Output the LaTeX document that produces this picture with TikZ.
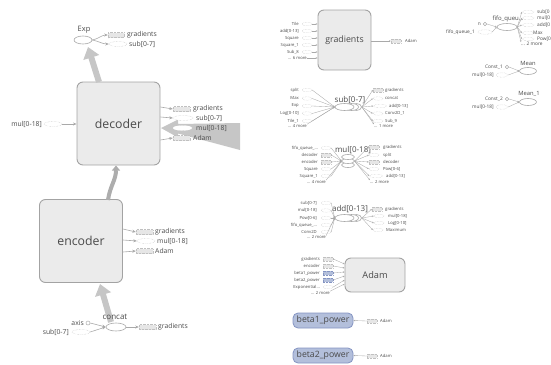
\documentclass[tikz,border=0pt]{standalone}
\usepackage{fontspec}
\setmainfont{Open Sans}
\usetikzlibrary{shapes.geometric,arrows.meta}

\definecolor{edgec}{HTML}{A9A9A9}
\definecolor{boxfill}{HTML}{EBEBEB}
\definecolor{boxline}{HTML}{A3A3A3}
\definecolor{txt}{HTML}{4A4A4A}
\definecolor{reffill}{HTML}{E6E6E6}
\definecolor{refline}{HTML}{C0C0C0}
\definecolor{bluefill}{HTML}{B3BFDB}
\definecolor{blueline}{HTML}{8494C2}
\definecolor{flowc}{HTML}{C6C6C6}
\definecolor{flowd}{HTML}{ADADAD}

\tikzset{
  metabox/.style={draw=boxline, fill=boxfill, rounded corners=6pt, line width=0.9pt, text=txt, inner sep=0pt},
  bluebox/.style={draw=blueline, fill=bluefill, rounded corners=5pt, line width=0.8pt, text=txt, inner sep=0pt,
    minimum width=60pt, minimum height=15pt, font=\fontsize{8.7}{10}\selectfont},
  opnode/.style={ellipse, draw=edgec, line width=0.6pt, fill=white, inner sep=0pt},
  refrect/.style={draw=refline, densely dotted, fill=reffill, line width=0.4pt, minimum width=10pt, minimum height=3.6pt, inner sep=0pt},
  refell/.style={ellipse, draw=refline, densely dotted, fill=white, line width=0.4pt, minimum width=10pt, minimum height=3.6pt, inner sep=0pt},
  refblue/.style={draw=blueline, densely dotted, fill=bluefill, line width=0.4pt, minimum width=10pt, minimum height=3.6pt, inner sep=0pt},
  refconst/.style={circle, draw=edgec, line width=0.5pt, fill=white, minimum size=4pt, inner sep=0pt},
  lbl/.style={text=txt, inner sep=0pt, font=\fontsize{6.8}{8}\selectfont},
  seriesname/.style={text=txt, inner sep=0pt, font=\fontsize{8}{9}\selectfont},
  smallname/.style={text=txt, inner sep=0pt, font=\fontsize{5.8}{6.5}\selectfont},
  tinylbl/.style={text=txt, inner sep=0pt, font=\fontsize{4.2}{5}\selectfont},
  sidelbl/.style={text=txt, inner sep=0pt, font=\fontsize{4.8}{5.5}\selectfont},
  link/.style={draw=edgec, line width=0.6pt, -{Stealth[length=3.5pt,width=3pt]}},
  fine/.style={draw=edgec, line width=0.35pt, -{Stealth[length=1.8pt,width=1.6pt]}},
  finerev/.style={draw=edgec, line width=0.35pt, {Stealth[length=1.8pt,width=1.6pt]}-},
  flow/.style={draw=flowc, line width=6pt, -{Triangle[length=11pt,width=16pt]}},
  series/.pic={
    \node[opnode, minimum width=10pt, minimum height=7pt] (-tail) at (12,0) {};
    \node[opnode, minimum width=14pt, minimum height=7pt] at (7,0) {};
    \node[opnode, minimum width=19pt, minimum height=7pt] (-main) at (0,0) {};
  },
  stack/.pic={
    \node[opnode, minimum width=13pt, minimum height=5pt] at (0,8) {};
    \node[opnode, minimum width=13pt, minimum height=5pt] at (0,4) {};
    \node[opnode, minimum width=13pt, minimum height=5pt] (-main) at (0,0) {};
    \coordinate (-in) at (-6.5,4);
    \coordinate (-out) at (6.5,4);
  }
}

\begin{document}
\begin{tikzpicture}[x=1pt,y=-1pt]
\useasboundingbox (0,0) rectangle (551,364);
\clip (0,0) rectangle (551,364);

% ================= left: decoder / encoder =================
\node[metabox, minimum width=83pt, minimum height=83pt, font=\fontsize{12.3}{14}\selectfont] (dec) at (118.5,123.5) {decoder};
\node[metabox, minimum width=83pt, minimum height=83pt, font=\fontsize{12.3}{14}\selectfont] (enc) at (81,241) {encoder};

% Exp and its outputs
\node[opnode, minimum width=18pt, minimum height=8pt] (exp) at (83,40) {};
\coordinate (expin) at (88,47);
\coordinate (dectop) at (99,82);
\draw[flow] (dectop) -- (expin);
\node[lbl, font=\fontsize{7.5}{8}\selectfont] (explbl) at (84,30) {Exp};
\node[refrect, minimum width=16pt, minimum height=5pt] (expg) at (116,35) {};
\node[lbl, anchor=west] (expgl) at (127,35) {gradients};
\node[refell, minimum width=18pt, minimum height=5pt] (exps) at (118,44) {};
\node[lbl, anchor=west] (expsl) at (129,44) {sub[0-7]};
\draw[link] (exp.east) to[out=10,in=180] (expg.west);
\draw[link] (exp.east) to[out=-10,in=180] (exps.west);

% decoder input
\node[lbl, anchor=east] (dml) at (42,124) {mul[0-18]};
\node[refell, minimum width=18pt, minimum height=5pt] (dm) at (53,124) {};
\draw[link] (dm.east) -- (dec.west |- dm);

% wide incoming band on the right of decoder
\coordinate (bandtip) at (161,128);
\fill[flowc] (bandtip) -- (178,119.5) -- (178,124) -- (240,123) -- (240,150) -- (178,133.5) -- (178,137.5) -- cycle;

% decoder outputs
\node[refrect, minimum width=17pt, minimum height=5pt] (dg) at (181.5,109) {};
\node[lbl, anchor=west] (dgl) at (193,109) {gradients};
\node[refell, minimum width=20pt, minimum height=5pt] (ds) at (183,118) {};
\node[lbl, anchor=west] (dsl) at (196,118) {sub[0-7]};
\node[refell, draw=white, minimum width=19pt, minimum height=5pt] (dmo) at (182.5,128) {};
\node[lbl, anchor=west] (dmol) at (196,128) {mul[0-18]};
\node[refrect, minimum width=17pt, minimum height=5pt] (da) at (181.5,138) {};
\node[lbl, anchor=west] (dal) at (193,138) {Adam};
\draw[link] (dec.east |- 0,107) -- (dg.west);
\draw[link] (dec.east |- 0,117) -- (ds.west);
\draw[link] (dec.east |- 0,140) -- (da.west);

% encoder -> decoder
\coordinate (encout) at (108,200);
\coordinate (decin) at (116,165.5);
\draw[draw=flowd, line width=4pt, -{Triangle[length=5pt,width=8pt]}] (encout) .. controls (110,186) and (116,180) .. (decin);

% encoder outputs
\node[refrect, minimum width=17pt, minimum height=5pt] (eg) at (144.5,232) {};
\node[lbl, anchor=west] (egl) at (155,232) {gradients};
\node[refell, minimum width=18pt, minimum height=5pt] (em) at (146,241) {};
\node[lbl, anchor=west] (eml) at (157,241) {mul[0-18]};
\node[refrect, minimum width=17pt, minimum height=5pt] (ea) at (144.5,251) {};
\node[lbl, anchor=west] (eal) at (155,251) {Adam};
\draw[link] (enc.east |- 0,229) -- (eg.west);
\draw[link] (enc.east |- 0,240) -- (em.west);
\draw[link] (enc.east |- 0,252) -- (ea.west);

% concat
\node[opnode, minimum width=20pt, minimum height=8pt] (cc) at (116,327) {};
\coordinate (ccout) at (111,322);
\coordinate (encin) at (100,284);
\draw[flow] (ccout) -- (encin);
\node[lbl, font=\fontsize{8}{9}\selectfont] (ccl) at (115,317) {concat};
\node[refconst] (ax) at (88,323) {};
\node[lbl, anchor=east] (axl) at (84,323) {axis};
\node[refell, minimum width=18pt, minimum height=5pt] (cs) at (81,332) {};
\node[lbl, anchor=east] (csl) at (69,332) {sub[0-7]};
\draw[link] (ax.east) -- (cc.west);
\draw[link] (cs.east) -- (cc.west);
\node[refrect, minimum width=17pt, minimum height=5pt] (ccg) at (147.5,327) {};
\node[lbl, anchor=west] (ccgl) at (158,327) {gradients};
\draw[link] (cc.east) -- (ccg.west);

% ================= middle column =================
% gradients
\node[metabox, minimum width=53pt, minimum height=60pt, font=\fontsize{8.8}{10}\selectfont] (gbox) at (344.5,40) {gradients};
\foreach \nm/\yy [count=\i] in {Tile/24, add[0-13]/31, Square/38, Square\_1/45, Sub\_8/52} {
  \node[tinylbl, anchor=east] (gbl\i) at (299,\yy) {\nm};
  \node[refell] (gbn\i) at (307,\yy) {};
  \draw[fine] (gbn\i.east) -- (gbox.west |- 0,\yy);
}
\node[tinylbl, anchor=east] (gbmore) at (307,58) {... 6 more};
\draw[fine] (gbmore.east) -- (gbox.west |- 0,58);
\node[refrect] (gba) at (396,41) {};
\node[tinylbl, anchor=west] (gbal) at (405,41) {Adam};
\draw[fine] (gbox.east |- gba) -- (gba.west);

% sub[0-7]
\node[seriesname] (sbl) at (350,100) {sub[0-7]};
\pic (sb) at (344.5,107) {series};
\foreach \nm/\yy [count=\i] in {split/90, Max/98.5, Exp/106, Log[0-10]/113.5, Tile\_1/121} {
  \node[tinylbl, anchor=east] (sbil\i) at (299,\yy) {\nm};
  \node[refell] (sbin\i) at (307,\yy) {};
  \draw[fine] (sbin\i.east) -- (sb-main.west);
}
\node[tinylbl, anchor=east] (sbimore) at (307,126) {... 4 more};
\draw[fine] (sbimore.north east) -- (sb-main.west);
\node[refrect] (sbo1) at (378,90) {};
\node[refell] (sbo2) at (378,98.5) {};
\node[refell, minimum width=13pt] (sbo3) at (380,106) {};
\node[refell] (sbo4) at (378,113.5) {};
\node[refell] (sbo5) at (378,121) {};
\foreach \nm/\yy/\xx [count=\i] in {gradients/90/385, concat/98.5/385, add[0-13]/106/389, Conv2D\_1/113.5/385, Sub\_9/121/385} {
  \node[tinylbl, anchor=west] (sbol\i) at (\xx,\yy) {\nm};
  \draw[fine] (sb-tail.east) -- (sbo\i.west);
}
\node[tinylbl, anchor=west] (sbomore) at (374,126) {... 1 more};
\draw[fine] (sb-tail.east) -- (sbomore.north west);

% mul[0-18]
\node[seriesname] (mll) at (353,150) {mul[0-18]};
\pic (ml) at (348,157) {stack};
\node[refell] (mli1) at (326,148) {};
\node[refrect] (mli2) at (326,155) {};
\node[refrect] (mli3) at (326,162) {};
\node[refell] (mli4) at (326,169) {};
\node[refell] (mli5) at (326,176) {};
\foreach \nm/\yy [count=\i] in {fifo\_queue\_\ldots/148, decoder/155, encoder/162, Square/169, Square\_1/176} {
  \node[tinylbl, anchor=east] (mlil\i) at (318,\yy) {\nm};
  \draw[fine] (mli\i.east) -- (ml-in);
}
\node[tinylbl, anchor=east] (mlimore) at (326,182) {... 4 more};
\draw[fine] (mlimore.north east) -- (ml-in);
\node[refrect] (mlo1) at (374,147) {};
\node[refell] (mlo2) at (374,155) {};
\node[refrect] (mlo3) at (374,162) {};
\node[refell] (mlo4) at (374,169) {};
\node[refell, minimum width=13pt] (mlo5) at (376,176) {};
\foreach \nm/\yy/\xx [count=\i] in {gradients/147/383, split/155/383, decoder/162/383, Pow[0-6]/169/383, add[0-13]/176/386} {
  \node[tinylbl, anchor=west] (mlol\i) at (\xx,\yy) {\nm};
  \draw[fine] (ml-out) -- (mlo\i.west);
}
\node[tinylbl, anchor=west] (mlomore) at (370,182) {... 2 more};
\draw[fine] (ml-out) -- (mlomore.north west);

% add[0-13]
\node[seriesname] (adl) at (350,209) {add[0-13]};
\pic (ad) at (344.5,218) {series};
\foreach \nm/\yy [count=\i] in {sub[0-7]/203, mul[0-18]/210.5, Pow[0-6]/218, fifo\_queue\_\ldots/225, Conv2D/232} {
  \node[tinylbl, anchor=east] (adil\i) at (317,\yy) {\nm};
  \node[refell] (adin\i) at (326,\yy) {};
  \draw[fine] (adin\i.east) -- (ad-main.west);
}
\node[tinylbl, anchor=east] (adimore) at (326,237.5) {... 2 more};
\draw[fine] (adimore.north east) -- (ad-main.west);
\node[refrect] (ado1) at (377,209) {};
\node[refell] (ado2) at (379,216) {};
\node[refell] (ado3) at (379,223) {};
\node[refell] (ado4) at (378,230) {};
\foreach \nm/\yy/\xx [count=\i] in {gradients/209/385, mul[0-18]/216/388, Log[0-10]/223/388, Maximum/230/386} {
  \node[tinylbl, anchor=west] (adol\i) at (\xx,\yy) {\nm};
  \draw[fine] (ad-tail.east) -- (ado\i.west);
}

% Adam
\node[metabox, minimum width=60pt, minimum height=34pt, font=\fontsize{9.2}{11}\selectfont] (adam) at (375,275) {Adam};
\node[refrect] (ami1) at (328,259) {};
\node[refrect] (ami2) at (328,266) {};
\node[refblue] (ami3) at (328,273) {};
\node[refblue] (ami4) at (328,280) {};
\node[refell] (ami5) at (328,287) {};
\foreach \nm/\yy/\ty [count=\i] in {gradients/259/264, encoder/266/268, beta1\_power/273/272, beta2\_power/280/276, Exponential\ldots/287/280} {
  \node[tinylbl, anchor=east] (amil\i) at (320,\yy) {\nm};
  \draw[fine] (ami\i.east) -- (adam.west |- 0,\ty);
}
\node[tinylbl, anchor=east] (amimore) at (330,293) {... 2 more};
\draw[fine] (amimore.north east) -- (adam.west |- 0,284);

% beta1_power / beta2_power
\node[bluebox] (b1) at (323,320.5) {beta1\_power};
\node[refrect] (b1a) at (372,321) {};
\node[tinylbl, anchor=west] (b1al) at (380,321) {Adam};
\draw[finerev] (b1.east) -- (b1a.west);
\node[bluebox] (b2) at (323,355.5) {beta2\_power};
\node[refrect] (b2a) at (372,356) {};
\node[tinylbl, anchor=west] (b2al) at (380,356) {Adam};
\draw[finerev] (b2.east) -- (b2a.west);

% ================= right column =================
% fifo queue (its output names run into the right margin)
\node[opnode, minimum width=20pt, minimum height=7pt] (fq) at (507,27) {};
\node[smallname, font=\fontsize{6}{7}\selectfont] (fql) at (508,19) {fifo\_queu…};
\node[refconst, minimum size=3.5pt] (fn) at (485,24) {};
\node[sidelbl, anchor=east] (fnl) at (481,24) {n};
\node[refell, minimum width=14pt, minimum height=4.5pt] (fq1) at (485,32) {};
\node[sidelbl, anchor=east] (fq1l) at (475,32) {fifo\_queue\_1};
\draw[fine] (fn.east) -- (fq.west);
\draw[fine] (fq1.east) -- (fq.west);
\foreach \nm/\yy/\xx [count=\i] in {sub[0/12/537, mul[0/18/537, add[0/25/537, Max/33/533, Pow[0/39/537} {
  \node[refell, minimum width=12pt] (fqo\i) at (528,\yy) {};
  \node[sidelbl, anchor=west] (fqol\i) at (\xx,\yy) {\nm};
  \draw[fine] (fq.east) -- (fqo\i.west);
}
\node[sidelbl, anchor=west] (fqomore) at (521,44) {... 2 more};
\draw[fine] (fq.east) -- (fqomore.north west);

% Mean
\node[opnode, minimum width=17pt, minimum height=7pt] (mean) at (528,71) {};
\node[smallname] (meanl) at (528,63) {Mean};
\node[refconst, minimum size=3.5pt] (c1) at (507,67) {};
\node[sidelbl, anchor=east] (c1l) at (503,67) {Const\_1};
\node[refell, minimum width=12pt, minimum height=4.5pt] (mm1) at (502,75) {};
\node[sidelbl, anchor=east] (mm1l) at (494,75) {mul[0-18]};
\draw[fine] (c1.east) -- (mean.west);
\draw[fine] (mm1.east) -- (mean.west);

% Mean_1
\node[opnode, minimum width=17pt, minimum height=7pt] (mean1) at (528,102) {};
\node[smallname] (mean1l) at (529,94) {Mean\_1};
\node[refconst, minimum size=3.5pt] (c2) at (507,99) {};
\node[sidelbl, anchor=east] (c2l) at (503,99) {Const\_2};
\node[refell, minimum width=12pt, minimum height=4.5pt] (mm2) at (502,107) {};
\node[sidelbl, anchor=east] (mm2l) at (494,107) {mul[0-18]};
\draw[fine] (c2.east) -- (mean1.west);
\draw[fine] (mm2.east) -- (mean1.west);
\end{tikzpicture}
\end{document}
